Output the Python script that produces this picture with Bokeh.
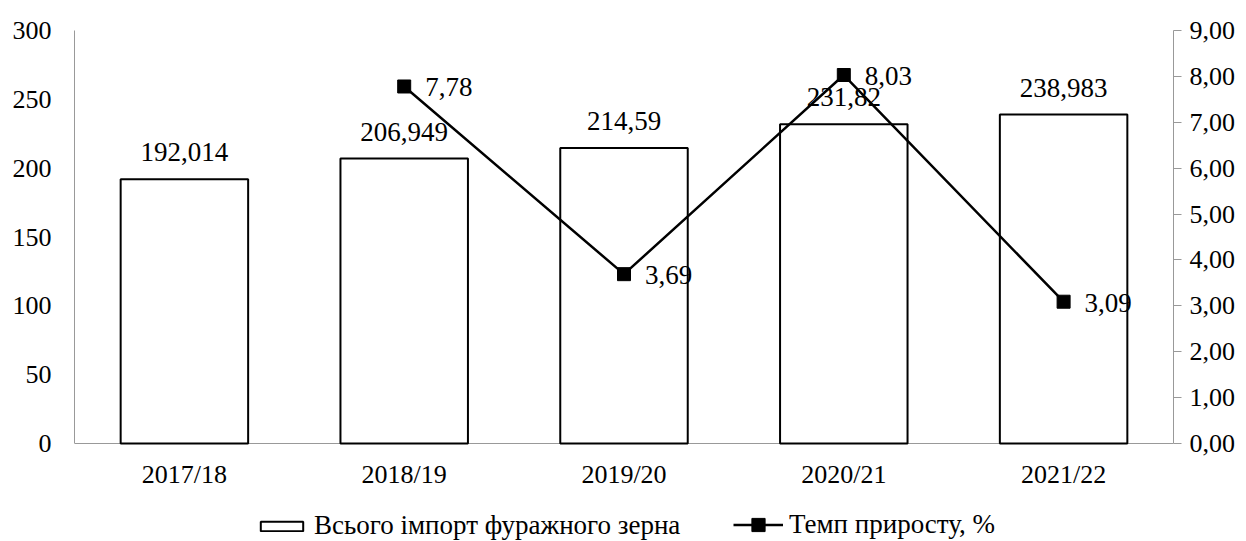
from bokeh.plotting import figure
from bokeh.models import (ColumnDataSource, Range1d, LinearAxis, FixedTicker,
                          CustomJSTickFormatter, Legend, LegendItem, FactorRange)
from bokeh.core.properties import value
from bokeh.embed import file_html
from bokeh.resources import INLINE

years = ["2017/18", "2018/19", "2019/20", "2020/21", "2021/22"]
imports_total = [192.014, 206.949, 214.59, 231.82, 238.983]
growth_years = ["2018/19", "2019/20", "2020/21", "2021/22"]
growth_rate = [7.78, 3.69, 8.03, 3.09]
left_ticks = [0, 50, 100, 150, 200, 250, 300]
right_ticks = [0, 1, 2, 3, 4, 5, 6, 7, 8, 9]
bar_name = "Всього імпорт фуражного зерна"
line_name = "Темп приросту, %"

FONT = "Liberation Serif"
AXIS_GRAY = "#999999"
FS = "26px"
LFS = "27px"

# frame: plot area 413 px tall for the axes, plus 98 px below for axis labels + legend
H, TOP, PLOT_H, EXTRA = 541, 30, 413, 98
LEFT_MAX, RIGHT_MAX = 300, 9
left_min = -EXTRA * LEFT_MAX / PLOT_H
right_min = -EXTRA * RIGHT_MAX / PLOT_H

def fmt(v):
    return str(v).replace(".", ",")

bar_src = ColumnDataSource(dict(x=years, top=imports_total,
                                lbl=[fmt(v) for v in imports_total]))
line_src = ColumnDataSource(dict(x=growth_years, y=growth_rate,
                                 lbl=[fmt(v) for v in growth_rate]))

p = figure(width=1244, height=H, x_range=FactorRange(*years, range_padding=0),
           y_range=Range1d(left_min, LEFT_MAX), output_backend="svg",
           toolbar_location=None, min_border_left=74, min_border_right=71,
           min_border_top=TOP, min_border_bottom=0)
p.extra_y_ranges = {"right": Range1d(right_min, RIGHT_MAX)}
p.outline_line_color = None
p.xgrid.grid_line_color = None
p.ygrid.grid_line_color = None
p.background_fill_color = "white"

bars = p.vbar(x="x", top="top", bottom=0, width=0.58, source=bar_src,
              fill_color="white", line_color="black", line_width=2)
p.text(x="x", y="top", text="lbl", source=bar_src, text_align="center",
       text_baseline="middle", y_offset=-27, text_font=value(FONT),
       text_font_size=LFS, text_color="black")

ln = p.line(x="x", y="y", source=line_src, y_range_name="right",
            line_color="black", line_width=2.5)
mk = p.scatter(x="x", y="y", source=line_src, y_range_name="right",
               marker="square", size=13, fill_color="black", line_color="black")
p.text(x="x", y="y", text="lbl", source=line_src, y_range_name="right",
       text_align="left", text_baseline="middle", x_offset=21, y_offset=1,
       text_font=value(FONT), text_font_size=LFS, text_color="black")

# left axis
yax = p.yaxis[0]
yax.ticker = FixedTicker(ticks=left_ticks)
yax.bounds = (0, LEFT_MAX)
yax.major_tick_line_color = None
yax.minor_tick_line_color = None
yax.axis_line_color = AXIS_GRAY
yax.major_label_text_font = FONT
yax.major_label_text_font_size = FS
yax.major_label_text_color = "black"
yax.major_label_standoff = 17

# x axis, sitting at value 0, drawn beneath the bars
xax = p.xaxis[0]
xax.fixed_location = 0
xax.level = "underlay"
xax.major_tick_line_color = None
xax.minor_tick_line_color = None
xax.axis_line_color = AXIS_GRAY
xax.major_label_text_font = FONT
xax.major_label_text_font_size = FS
xax.major_label_text_color = "black"
xax.major_label_standoff = 10

# right axis
rax = LinearAxis(y_range_name="right", ticker=FixedTicker(ticks=right_ticks),
                 formatter=CustomJSTickFormatter(code="return tick.toFixed(2).replace('.', ',');"))
rax.bounds = (0, RIGHT_MAX)
rax.axis_line_color = AXIS_GRAY
rax.major_tick_line_color = AXIS_GRAY
rax.major_tick_out = 8
rax.major_tick_in = 0
rax.minor_tick_line_color = None
rax.major_label_text_font = FONT
rax.major_label_text_font_size = FS
rax.major_label_text_color = "black"
rax.major_label_standoff = 8
p.add_layout(rax, "right")

leg_common = dict(orientation="horizontal", label_text_font=FONT,
                  label_text_font_size="27px", label_text_color="black",
                  padding=0, margin=0, border_line_color=None,
                  background_fill_alpha=0, label_standoff=6)
legend_bar = Legend(items=[LegendItem(label=bar_name, renderers=[bars])],
                    location=(181, 0), glyph_width=53, glyph_height=12,
                    **leg_common)
legend_line = Legend(items=[LegendItem(label=line_name, renderers=[ln, mk])],
                     location=(659, 0), glyph_width=50, glyph_height=33,
                     **leg_common)
p.add_layout(legend_bar, "center")
p.add_layout(legend_line, "center")

open("out.html", "w").write(file_html(p, INLINE))
